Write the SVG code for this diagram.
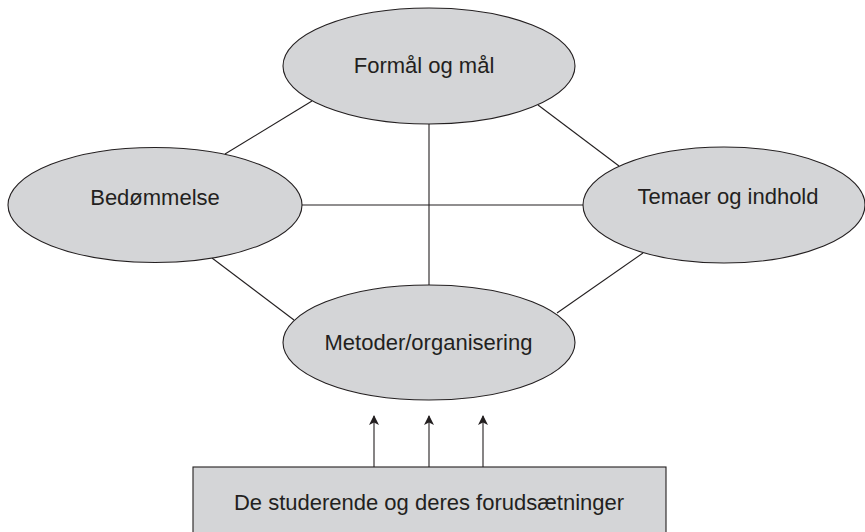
<svg xmlns="http://www.w3.org/2000/svg" width="865" height="532" viewBox="0 0 865 532">
<defs>
<style>
.n{fill:#d4d5d7;stroke:#231f20;stroke-width:1.1}
.t{font-family:"Liberation Sans",Arial,sans-serif;font-size:22px;fill:#231f20;text-anchor:middle}
.c{stroke:#231f20;stroke-width:1.1;fill:none}
</style>
<marker id="ah" viewBox="0 0 10 12" refX="9" refY="6" markerWidth="10" markerHeight="12" markerUnits="userSpaceOnUse" orient="auto">
<path d="M0,1 L10,6 L0,11 L2.5,6 Z" fill="#231f20"/>
</marker>
</defs>
<rect width="865" height="532" fill="#ffffff"/>
<g id="connectors">
<line class="c" x1="429" y1="124" x2="429" y2="285"/>
<line class="c" x1="302" y1="205" x2="583" y2="205"/>
<line class="c" x1="312" y1="101" x2="225" y2="154"/>
<line class="c" x1="538" y1="105" x2="619" y2="166"/>
<line class="c" x1="212" y1="258" x2="294" y2="320"/>
<line class="c" x1="557" y1="313" x2="643" y2="253"/>
<line class="c" x1="374" y1="467" x2="374" y2="416" marker-end="url(#ah)"/>
<line class="c" x1="429" y1="467" x2="429" y2="416" marker-end="url(#ah)"/>
<line class="c" x1="483" y1="467" x2="483" y2="416" marker-end="url(#ah)"/>
</g>
<g id="formaal">
<ellipse class="n" cx="429" cy="66" rx="146" ry="58"/>
<text class="t" x="424" y="73">Formål og mål</text>
</g>
<g id="bedommelse">
<ellipse class="n" cx="155" cy="205" rx="147" ry="57.5"/>
<text class="t" x="155" y="205">Bedømmelse</text>
</g>
<g id="temaer">
<ellipse class="n" cx="724" cy="205" rx="141" ry="58"/>
<text class="t" x="728" y="204">Temaer og indhold</text>
</g>
<g id="metoder">
<ellipse class="n" cx="429" cy="342.5" rx="146" ry="57.5"/>
<text class="t" x="428.5" y="350">Metoder/organisering</text>
</g>
<g id="studerende">
<rect class="n" x="193" y="467" width="473" height="70"/>
<text class="t" x="429" y="510">De studerende og deres forudsætninger</text>
</g>
</svg>
